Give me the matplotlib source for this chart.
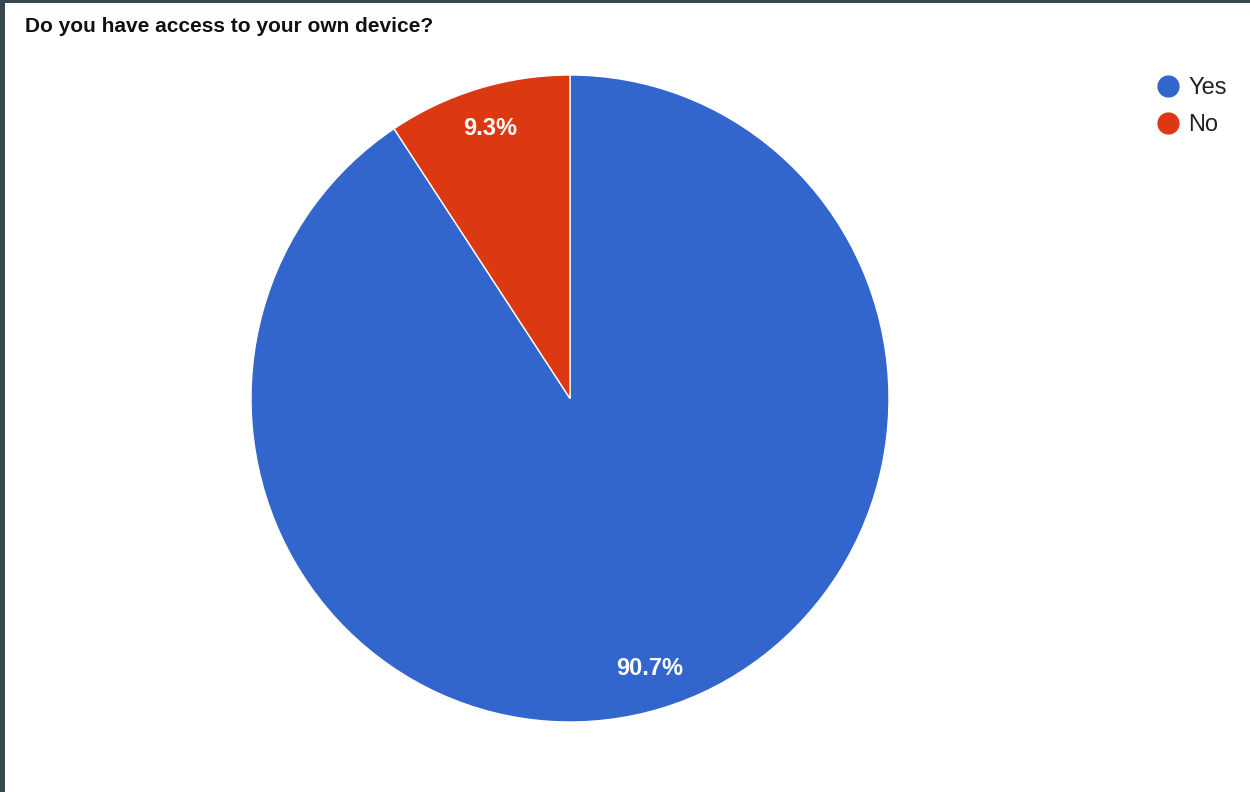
import matplotlib.pyplot as plt
from matplotlib.lines import Line2D

plt.rcParams['font.family'] = ['Liberation Sans', 'DejaVu Sans']

answers = ['Yes', 'No']
shares = [90.7, 9.3]
colors = ['#3366cc', '#dc3912']
question = 'Do you have access to your own device?'

W, H = 1250, 792
fig = plt.figure(figsize=(W / 100, H / 100), dpi=100, facecolor='#37474f')

# white sheet inside the dark frame
bg = fig.add_axes([5 / W, 0, 1 - 5 / W, 1 - 3 / H])
bg.set_facecolor('white')
bg.set_xticks([])
bg.set_yticks([])
for s in bg.spines.values():
    s.set_visible(False)

# pie centred at (570, 398.5) px, slightly taller than wide
cx, cy, rx, ry = 570, 398.5, 319, 323.5
ax = fig.add_axes([(cx - rx) / W, (H - cy - ry) / H, 2 * rx / W, 2 * ry / H])
ax.set_facecolor('none')
wedges, texts, autotexts = ax.pie(
    shares, colors=colors, startangle=90, counterclock=False,
    autopct='%.1f%%', pctdistance=0.87, radius=1,
    wedgeprops=dict(edgecolor='white', linewidth=1),
    textprops=dict(color='white', fontsize=17, fontweight='bold'))
ax.set_xlim(-1, 1)
ax.set_ylim(-1, 1)
ax.set_aspect('auto')
ax.axis('off')

fig.text(25 / W, 1 - 27 / H, question, fontsize=15, fontweight='bold',
         color='#111111', ha='left', va='center')

handles = [Line2D([], [], marker='o', linestyle='none', markersize=15,
                  markerfacecolor=c, markeredgecolor=c) for c in colors]
fig.legend(handles, answers, loc='upper left',
           bbox_to_anchor=(1147 / W, 1 - 68 / H), frameon=False,
           fontsize=17, labelcolor='#222222', handlelength=1.0,
           handletextpad=0.35, labelspacing=0.62, borderaxespad=0)

fig.savefig('out.png', dpi=100, facecolor=fig.get_facecolor())
